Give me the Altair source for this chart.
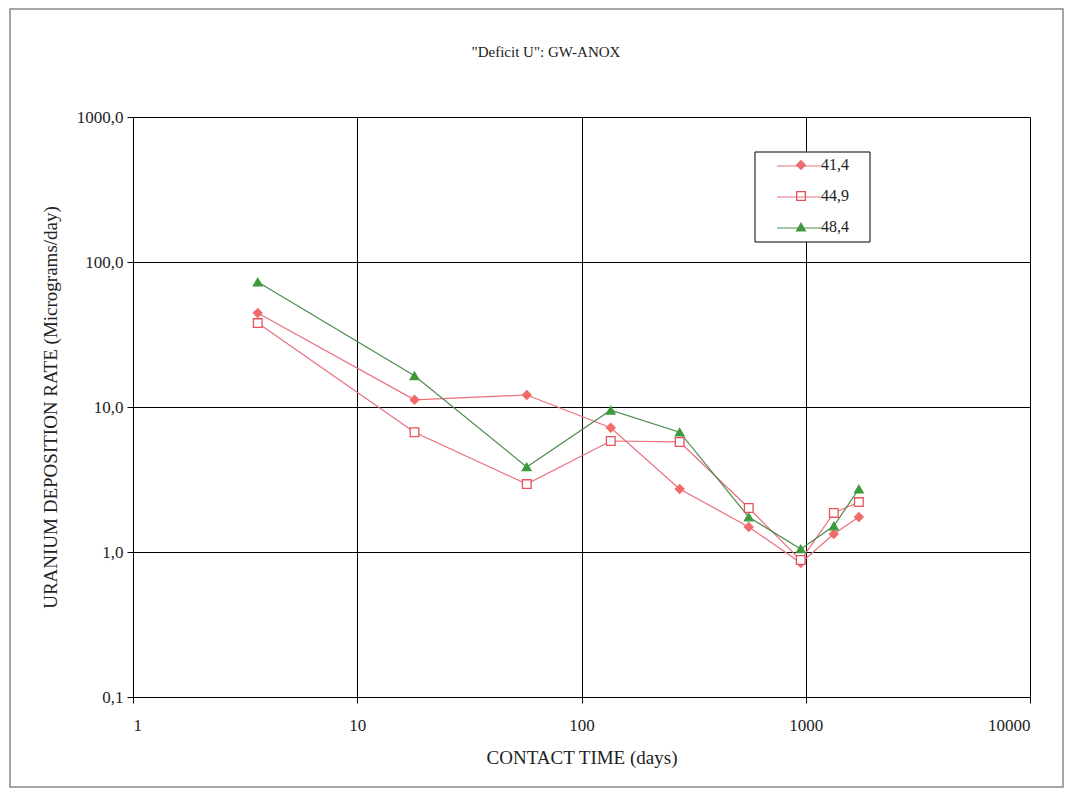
import altair as alt
import pandas as pd

# Contact time (days)
days = [3.6, 18, 57, 135, 274, 557, 950, 1334, 1725]
series_names = ["41,4", "44,9", "48,4"]
s414 = [44.5, 11.2, 12.1, 7.2, 2.72, 1.49, 0.84, 1.33, 1.74]
s449 = [37.9, 6.7, 2.94, 5.83, 5.74, 2.01, 0.88, 1.86, 2.21]
s484 = [72.8, 16.4, 3.86, 9.5, 6.7, 1.74, 1.05, 1.51, 2.72]
title_text = '"Deficit U": GW-ANOX'

rows = []
for name, vals in zip(series_names, [s414, s449, s484]):
    for d, v in zip(days, vals):
        rows.append({"days": d, "rate": v, "series": name, "line": name})
df = pd.DataFrame(rows)

FONT = "Times New Roman, Liberation Serif, serif"

xscale = alt.Scale(type="log", domain=[1, 10000], nice=False)
yscale = alt.Scale(type="log", domain=[0.1, 1000], nice=False)

xax = alt.Axis(
    title="CONTACT TIME (days)", values=[1, 10, 100, 1000, 10000], format="d",
    grid=True, gridColor="black", gridWidth=1, gridOpacity=1,
    tickColor="black", tickSize=6, domain=False,
    labelFont=FONT, labelFontSize=17, labelColor="#222", labelPadding=14,
    titleFont=FONT, titleFontSize=19, titleFontWeight="normal", titleColor="#222",
    titlePadding=15,
)
yax = alt.Axis(
    title="URANIUM DEPOSITION RATE (Micrograms/day)", values=[0.1, 1, 10, 100, 1000],
    labelExpr="replace(format(datum.value, '.1f'), '.', ',')",
    grid=True, gridColor="black", gridWidth=1, gridOpacity=1,
    tickColor="black", tickSize=6, domain=False,
    labelFont=FONT, labelFontSize=17, labelColor="#222", labelPadding=4,
    titleFont=FONT, titleFontSize=19, titleFontWeight="normal", titleColor="#222",
    titlePadding=16,
)

line_colors = ["#e8707c", "#e8707c", "#4e8a4e"]
fill_colors = ["#f26a6a", "#ffffff", "#3c9a3c"]
stroke_colors = ["#f26a6a", "#e8505a", "#3c9a3c"]
shapes = ["diamond", "square", "triangle-up"]

base = alt.Chart(df)

lines = base.mark_line(strokeWidth=1.2).encode(
    x=alt.X("days:Q", scale=xscale, axis=xax),
    y=alt.Y("rate:Q", scale=yscale, axis=yax),
    color=alt.Color(
        "line:N", scale=alt.Scale(domain=series_names, range=line_colors),
        legend=alt.Legend(
            title=None, orient="none", legendX=643, legendY=26,
            symbolType="stroke", symbolSize=1936, symbolStrokeWidth=1.2,
            labelExpr="''", labelFontSize=16, labelFont=FONT,
            rowPadding=-12.5, padding=0, labelOffset=2,
        ),
    ),
    detail="series:N",
)

points = base.mark_point(size=75, filled=False, strokeWidth=1.3, opacity=1).encode(
    x="days:Q",
    y="rate:Q",
    shape=alt.Shape("series:N", scale=alt.Scale(domain=series_names, range=shapes)),
    fill=alt.Fill("series:N", scale=alt.Scale(domain=series_names, range=fill_colors)),
    stroke=alt.Stroke("series:N", scale=alt.Scale(domain=series_names, range=stroke_colors),
                      legend=alt.Legend(
                          title=None, orient="none", legendX=622, legendY=34,
                          symbolSize=75, symbolStrokeWidth=1.3, symbolOffset=32,
                          labelFontSize=16, labelFont=FONT, labelColor="#222",
                          rowPadding=15, padding=6, labelOffset=12,
                      )),
)

frame = alt.Chart(pd.DataFrame({"a": [0]})).mark_rect(
    fill=None, stroke="#888", strokeWidth=1.5
).encode(
    x=alt.value(-123), x2=alt.value(930), y=alt.value(-108), y2=alt.value(670)
)

legend_box = alt.Chart(pd.DataFrame({"a": [0]})).mark_rect(
    fill="white", stroke="black", strokeWidth=1
).encode(
    x=alt.value(622), x2=alt.value(737), y=alt.value(35), y2=alt.value(125)
)

title = alt.Chart(pd.DataFrame({"t": [title_text]})).mark_text(
    font=FONT, fontSize=15, color="#222"
).encode(x=alt.value(413), y=alt.value(-65), text="t:N")

chart = alt.layer(frame, legend_box, lines, points, title).resolve_legend(
    color="independent", shape="shared", fill="shared", stroke="shared"
).properties(
    width=897, height=580,
    autosize=alt.AutoSizeParams(type="none"),
    padding={"left": 133, "top": 117, "right": 36, "bottom": 99},
).configure_view(stroke="black", strokeWidth=2).configure(background="white")

chart.save("out.html", embed_options={"renderer": "svg", "actions": False})
